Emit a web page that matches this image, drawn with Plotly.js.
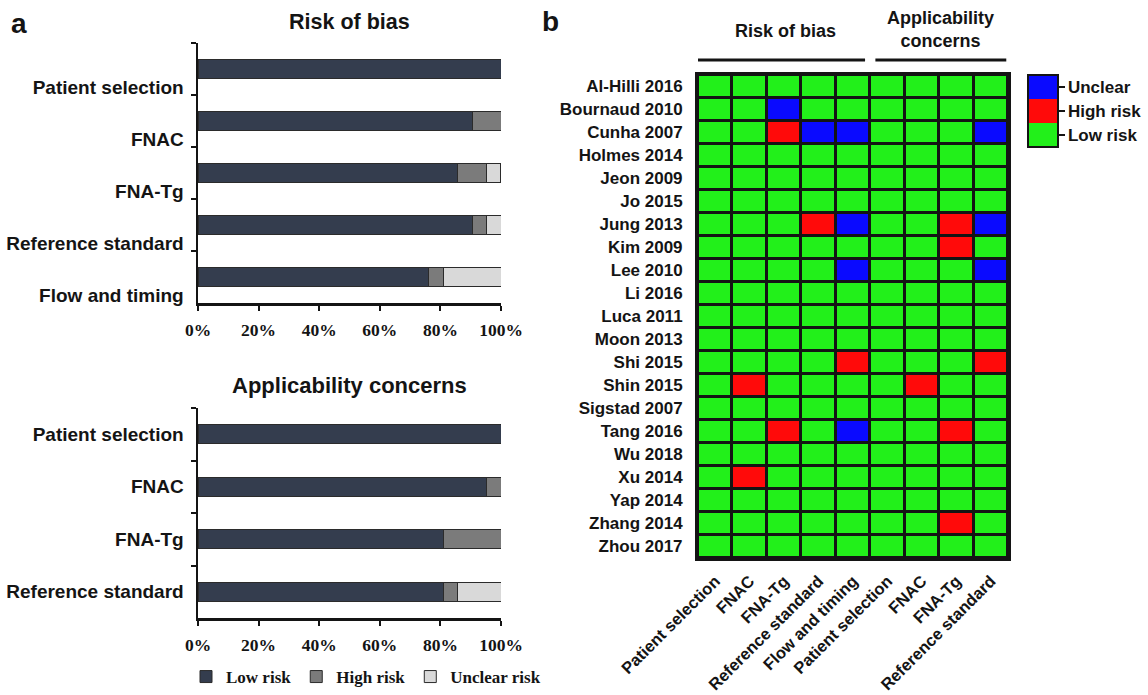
<!DOCTYPE html>
<html>
<head>
<meta charset="utf-8">
<script src="https://cdn.plot.ly/plotly-3.0.1.min.js"></script>
<style>
  html, body { margin: 0; padding: 0; background: #fff; }
  #fig { width: 1148px; height: 695px; }
</style>
</head>
<body>
<div id="fig"></div>
<script>
// ---- Panel a: percentage of studies per QUADAS-2 judgement ----
const robDomains = ['Patient selection', 'FNAC', 'FNA-Tg', 'Reference standard', 'Flow and timing'];
const robLow     = [100, 90.48, 85.71, 90.48, 76.19];
const robHigh    = [0, 9.52, 9.52, 4.76, 4.76];
const robUnclear = [0, 0, 4.76, 4.76, 19.05];

const acDomains = ['Patient selection', 'FNAC', 'FNA-Tg', 'Reference standard'];
const acLow     = [100, 95.24, 80.95, 80.95];
const acHigh    = [0, 4.76, 19.05, 4.76];
const acUnclear = [0, 0, 0, 14.29];

const pctTicks = [0, 20, 40, 60, 80, 100];
const pctLabels = ['0%', '20%', '40%', '60%', '80%', '100%'];

// ---- Panel b: judgement per study and domain (0 = low, 1 = high, 2 = unclear) ----
const studies = ['Al-Hilli 2016', 'Bournaud 2010', 'Cunha 2007', 'Holmes 2014', 'Jeon 2009', 'Jo 2015',
  'Jung 2013', 'Kim 2009', 'Lee 2010', 'Li 2016', 'Luca 2011', 'Moon 2013', 'Shi 2015', 'Shin 2015',
  'Sigstad 2007', 'Tang 2016', 'Wu 2018', 'Xu 2014', 'Yap 2014', 'Zhang 2014', 'Zhou 2017'];
const domainCols = ['Patient selection', 'FNAC', 'FNA-Tg', 'Reference standard', 'Flow and timing',
  'Patient selection', 'FNAC', 'FNA-Tg', 'Reference standard'];
const ratingLabels = ['Low risk', 'High risk', 'Unclear'];
const ratings = [
  [0, 0, 0, 0, 0, 0, 0, 0, 0], // Al-Hilli 2016
  [0, 0, 2, 0, 0, 0, 0, 0, 0], // Bournaud 2010
  [0, 0, 1, 2, 2, 0, 0, 0, 2], // Cunha 2007
  [0, 0, 0, 0, 0, 0, 0, 0, 0], // Holmes 2014
  [0, 0, 0, 0, 0, 0, 0, 0, 0], // Jeon 2009
  [0, 0, 0, 0, 0, 0, 0, 0, 0], // Jo 2015
  [0, 0, 0, 1, 2, 0, 0, 1, 2], // Jung 2013
  [0, 0, 0, 0, 0, 0, 0, 1, 0], // Kim 2009
  [0, 0, 0, 0, 2, 0, 0, 0, 2], // Lee 2010
  [0, 0, 0, 0, 0, 0, 0, 0, 0], // Li 2016
  [0, 0, 0, 0, 0, 0, 0, 0, 0], // Luca 2011
  [0, 0, 0, 0, 0, 0, 0, 0, 0], // Moon 2013
  [0, 0, 0, 0, 1, 0, 0, 0, 1], // Shi 2015
  [0, 1, 0, 0, 0, 0, 1, 0, 0], // Shin 2015
  [0, 0, 0, 0, 0, 0, 0, 0, 0], // Sigstad 2007
  [0, 0, 1, 0, 2, 0, 0, 1, 0], // Tang 2016
  [0, 0, 0, 0, 0, 0, 0, 0, 0], // Wu 2018
  [0, 1, 0, 0, 0, 0, 0, 0, 0], // Xu 2014
  [0, 0, 0, 0, 0, 0, 0, 0, 0], // Yap 2014
  [0, 0, 0, 0, 0, 0, 0, 1, 0], // Zhang 2014
  [0, 0, 0, 0, 0, 0, 0, 0, 0]  // Zhou 2017
];

// ---- styling ----
const W = 1148, H = 695;
const px = v => v / W;          // pixel column -> paper x
const py = v => 1 - v / H;      // pixel row -> paper y
const INK = '#141414';
const SANS = 'Liberation Sans, Arial, sans-serif';
const SERIF = 'Liberation Serif, Times New Roman, serif';
const barColors = { low: '#343d4e', high: '#7b7b7b', unclear: '#d9d9d9' };
const cellColors = { low: '#22f01a', high: '#ff0a0a', unclear: '#0a0aff' };
const barOutline = { color: '#2b2b2b', width: 1 };
const BAR_W = 0.37;

function stackBars(domains, values, xa, ya, showLegend) {
  const parts = [
    ['Low risk', values[0], barColors.low],
    ['High risk', values[1], barColors.high],
    ['Unclear risk', values[2], barColors.unclear]
  ];
  return parts.map(([name, vals, color]) => ({
    type: 'bar', orientation: 'h', name: name, legendgroup: name,
    x: vals, y: domains, xaxis: xa, yaxis: ya, width: BAR_W,
    marker: { color: color, line: barOutline },
    showlegend: showLegend, hoverinfo: 'skip'
  }));
}

const traces = []
  .concat(stackBars(robDomains, [robLow, robHigh, robUnclear], 'x', 'y', true))
  .concat(stackBars(acDomains, [acLow, acHigh, acUnclear], 'x2', 'y2', false));

traces.push({
  type: 'heatmap', z: ratings, x: domainCols.map((_, i) => i), y: studies,
  xaxis: 'x3', yaxis: 'y3',
  zmin: -0.5, zmax: 2.5, xgap: 3, ygap: 3,
  colorscale: [
    [0, cellColors.low], [1 / 3, cellColors.low],
    [1 / 3, cellColors.high], [2 / 3, cellColors.high],
    [2 / 3, cellColors.unclear], [1, cellColors.unclear]
  ],
  hoverinfo: 'skip', showlegend: false,
  colorbar: {
    tickmode: 'array', tickvals: [0, 1, 2], ticktext: ratingLabels,
    ticks: 'outside', ticklen: 6, tickwidth: 1.5, tickcolor: INK,
    ticklabelstandoff: 2,
    tickfont: { family: SANS, size: 17, color: INK, weight: 'bold' },
    outlinewidth: 2, outlinecolor: INK,
    thicknessmode: 'pixels', thickness: 30,
    lenmode: 'pixels', len: 72,
    x: px(1028), xanchor: 'left', xpad: 0,
    y: py(75), yanchor: 'top', ypad: 0
  }
});

const pctAxis = (domain, anchor) => ({
  domain: domain, anchor: anchor, range: [0, 100], fixedrange: true,
  tickmode: 'array', tickvals: pctTicks, ticktext: pctLabels,
  ticks: 'outside', ticklen: 5, tickwidth: 2, tickcolor: INK,
  showline: true, linewidth: 2.5, linecolor: INK,
  showgrid: false, zeroline: false, ticklabelstandoff: 4,
  tickfont: { family: SERIF, size: 17.5, color: INK, weight: 'bold' }
});

const catAxis = (domain, anchor, shift) => ({
  domain: domain, anchor: anchor, type: 'category', autorange: 'reversed',
  tickson: 'boundaries', ticks: 'outside', ticklen: 5, tickwidth: 2, tickcolor: INK,
  showline: true, linewidth: 2.5, linecolor: INK, showgrid: false, zeroline: false,
  ticklabelstandoff: 8, ticklabelshift: shift,
  tickfont: { family: SANS, size: 19, color: INK, weight: 'bold' }
});

const headerLine = (x0, x1) => ({
  type: 'line', xref: 'x3', yref: 'paper', x0: x0, x1: x1, y0: py(60), y1: py(60),
  line: { color: INK, width: 3 }
});

const textNote = (text, x, y, size, extra) => Object.assign({
  text: text, x: x, y: y, xref: 'paper', yref: 'paper', showarrow: false,
  xanchor: 'center', yanchor: 'middle',
  font: { family: SANS, size: size, color: INK, weight: 'bold' }
}, extra || {});

const layout = {
  width: W, height: H,
  margin: { l: 0, r: 0, t: 0, b: 0 },
  paper_bgcolor: '#ffffff', plot_bgcolor: 'rgba(0,0,0,0)',
  barmode: 'stack', bargap: 0,
  xaxis: pctAxis([px(198), px(501)], 'y'),
  yaxis: catAxis([py(303), py(43)], 'x', -18),
  xaxis2: pctAxis([px(198), px(501)], 'y2'),
  yaxis2: catAxis([py(618), py(408)], 'x2', 0),
  xaxis3: {
    domain: [px(698), px(1008)], anchor: 'y3', range: [-0.5, 8.5],
    tickmode: 'array', tickvals: domainCols.map((_, i) => i), ticktext: domainCols,
    tickangle: -45, ticks: '', showgrid: false, zeroline: false,
    showline: true, mirror: true, linewidth: 3, linecolor: INK,
    ticklabelstandoff: 4,
    tickfont: { family: SANS, size: 16.5, color: INK, weight: 'bold' }
  },
  yaxis3: {
    domain: [py(558), py(75)], anchor: 'x3', type: 'category', autorange: 'reversed',
    ticks: '', showgrid: false, zeroline: false,
    showline: true, mirror: true, linewidth: 3, linecolor: INK,
    ticklabelstandoff: 9,
    tickfont: { family: SANS, size: 17, color: INK, weight: 'bold' }
  },
  shapes: [
    // black backing that shows through the gaps between heatmap cells
    { type: 'rect', xref: 'x3 domain', yref: 'y3 domain', x0: 0, x1: 1, y0: 0, y1: 1,
      fillcolor: INK, line: { width: 0 }, layer: 'below' },
    headerLine(-0.5, 4.35),
    headerLine(4.65, 8.45)
  ],
  annotations: [
    textNote('a', px(19), py(24), 28),
    textNote('b', px(550), py(22), 28),
    textNote('Risk of bias', px(349.5), py(22), 21.5),
    textNote('Applicability concerns', px(349.5), py(385), 22),
    textNote('Risk of bias', px(785), py(31), 18),
    textNote('Applicability<br>concerns', px(940), py(30), 18)
  ],
  legend: {
    orientation: 'h', x: px(186), xanchor: 'left', y: 0, yanchor: 'bottom',
    traceorder: 'normal', itemwidth: 30,
    font: { family: SERIF, size: 17, color: INK, weight: 'bold' },
    bgcolor: 'rgba(0,0,0,0)'
  },
  showlegend: true
};

Plotly.newPlot('fig', traces, layout, { staticPlot: true, displayModeBar: false });
</script>
</body>
</html>
